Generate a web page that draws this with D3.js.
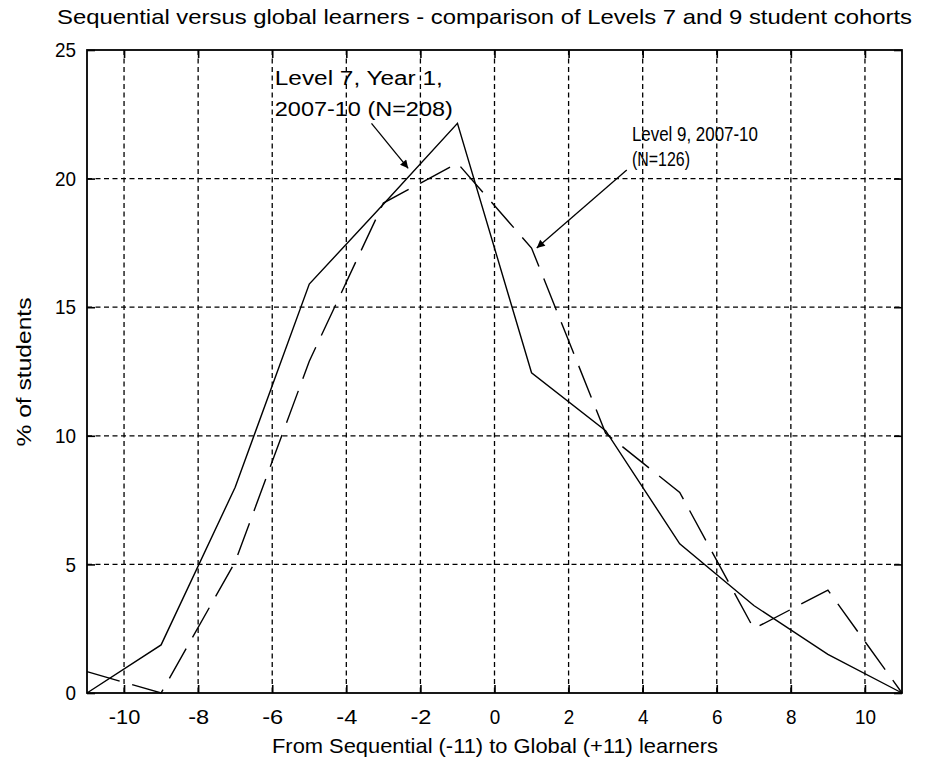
<!DOCTYPE html>
<html lang="en">
<head>
  <meta charset="UTF-8">
  <title>Sequential versus global learners</title>
  <script src="https://d3js.org/d3.v7.min.js"></script>
  <style>
    body { margin: 0; background: #fff; }
    svg { display: block; }
    text {
      font-family: "Liberation Sans Narrow", "Arial Narrow", "Liberation Sans", Arial, sans-serif;
      fill: #000;
    }
    .grid line { stroke: #000; stroke-width: 1.3; stroke-dasharray: 5,3.5; }
  </style>
</head>
<body>
  <svg></svg>
  <script>
    // Data (x = score, y = % of students)
    const scores = [-11, -9, -7, -5, -3, -1, 1, 3, 5, 7, 9, 11];
    const level7 = [0, 1.87, 8.0, 15.9, 19.0, 22.15, 12.45, 10.2, 5.8, 3.4, 1.5, 0];
    const level9 = [0.83, 0, 5.1, 12.9, 19.05, 20.6, 17.3, 10.1, 7.8, 2.5, 4.0, 0];
    const xTicks = [-10, -8, -6, -4, -2, 0, 2, 4, 6, 8, 10];
    const yTicks = [0, 5, 10, 15, 20, 25];

    const titleText = "Sequential versus global learners - comparison of Levels 7 and 9 student cohorts";
    const xLabel = "From Sequential (-11) to Global (+11) learners";
    const yLabel = "% of students";

    // annotations in data units
    const notes = [
      { lines: ["Level 7, Year 1,", "2007-10 (N=208)"], x: -5.93, y: [23.65, 22.45], w: [168, 178],
        from: [-3.32, 22.15], to: [-2.33, 20.4] },
      { lines: ["Level 9, 2007-10", "(N=126)"], x: 3.71, y: [21.45, 20.5], w: [126, 58],
        from: [3.57, 20.33], to: [1.14, 17.3] }
    ];

    const W = 932, H = 763;
    const margin = { top: 50, right: 30, bottom: 70, left: 87 };
    const width = W - margin.left - margin.right;
    const height = H - margin.top - margin.bottom;

    const svg = d3.select("svg").attr("width", W).attr("height", H);
    svg.append("rect").attr("width", W).attr("height", H).attr("fill", "#fff");

    const x = d3.scaleLinear().domain([-11, 11]).range([0, width]);
    const y = d3.scaleLinear().domain([0, 25]).range([height, 0]);

    const g = svg.append("g").attr("transform", `translate(${margin.left},${margin.top})`);

    // grid
    const grid = g.append("g").attr("class", "grid");
    grid.selectAll(".vx").data(xTicks).enter().append("line")
      .attr("x1", d => x(d)).attr("x2", d => x(d)).attr("y1", 0).attr("y2", height);
    grid.selectAll(".hy").data(yTicks.slice(1, -1)).enter().append("line")
      .attr("x1", 0).attr("x2", width).attr("y1", d => y(d)).attr("y2", d => y(d));

    // axes, ticks pointing inward (matlab style)
    const tk = 8;
    const axisStyle = sel => sel.call(s => s.select(".domain").remove())
      .selectAll("line").attr("stroke", "#000").attr("stroke-width", 1.6);
    const tickText = sel => sel.selectAll("text")
      .attr("font-size", 21).attr("fill", "#000").attr("font-family", null)
      .attr("textLength", d => String(d).length * 10.5).attr("lengthAdjust", "spacingAndGlyphs");

    g.append("g").attr("transform", `translate(0,${height})`)
      .call(d3.axisBottom(x).tickValues(xTicks).tickSize(-tk).tickPadding(16).tickFormat(d => String(d)))
      .call(axisStyle)
      .call(tickText);
    g.append("g")
      .call(d3.axisTop(x).tickValues(xTicks).tickSize(-tk).tickFormat(""))
      .call(axisStyle);
    g.append("g")
      .call(d3.axisLeft(y).tickValues(yTicks).tickSize(-tk).tickPadding(11).tickFormat(d => String(d)))
      .call(axisStyle)
      .call(tickText);
    g.append("g").attr("transform", `translate(${width},0)`)
      .call(d3.axisRight(y).tickValues(yTicks).tickSize(-tk).tickFormat(""))
      .call(axisStyle);

    g.append("rect").attr("width", width).attr("height", height)
      .attr("fill", "none").attr("stroke", "#000").attr("stroke-width", 1.8);

    // series
    const line = d3.line().x(d => x(d[0])).y(d => y(d[1]));
    g.append("path").datum(d3.zip(scores, level7)).attr("d", line)
      .attr("fill", "none").attr("stroke", "#000").attr("stroke-width", 1.4);
    g.append("path").datum(d3.zip(scores, level9)).attr("d", line)
      .attr("fill", "none").attr("stroke", "#000").attr("stroke-width", 1.4)
      .attr("stroke-dasharray", "34,13");

    // annotations + arrows
    svg.append("defs").append("marker")
      .attr("id", "head").attr("viewBox", "0 0 10 10").attr("refX", 10).attr("refY", 5)
      .attr("markerWidth", 16).attr("markerHeight", 8).attr("markerUnits", "userSpaceOnUse")
      .attr("orient", "auto")
      .append("path").attr("d", "M0,0L10,5L0,10z").attr("fill", "#000");

    notes.forEach(n => {
      n.lines.forEach((t, i) => {
        g.append("text").attr("x", x(n.x)).attr("y", y(n.y[i]))
          .attr("font-size", 20).attr("textLength", n.w[i]).attr("lengthAdjust", "spacingAndGlyphs")
          .text(t);
      });
      g.append("line")
        .attr("x1", x(n.from[0])).attr("y1", y(n.from[1]))
        .attr("x2", x(n.to[0])).attr("y2", y(n.to[1]))
        .attr("stroke", "#000").attr("stroke-width", 1.3)
        .attr("marker-end", "url(#head)");
    });

    // title and labels
    svg.append("text").attr("x", 57).attr("y", 24).attr("font-size", 21)
      .attr("textLength", 855).attr("lengthAdjust", "spacingAndGlyphs").text(titleText);
    svg.append("text").attr("x", 272).attr("y", 753).attr("font-size", 21)
      .attr("textLength", 446).attr("lengthAdjust", "spacingAndGlyphs").text(xLabel);
    svg.append("text").attr("transform", "translate(31,372) rotate(-90)")
      .attr("text-anchor", "middle").attr("font-size", 21)
      .attr("textLength", 149).attr("lengthAdjust", "spacingAndGlyphs").text(yLabel);
  </script>
</body>
</html>
